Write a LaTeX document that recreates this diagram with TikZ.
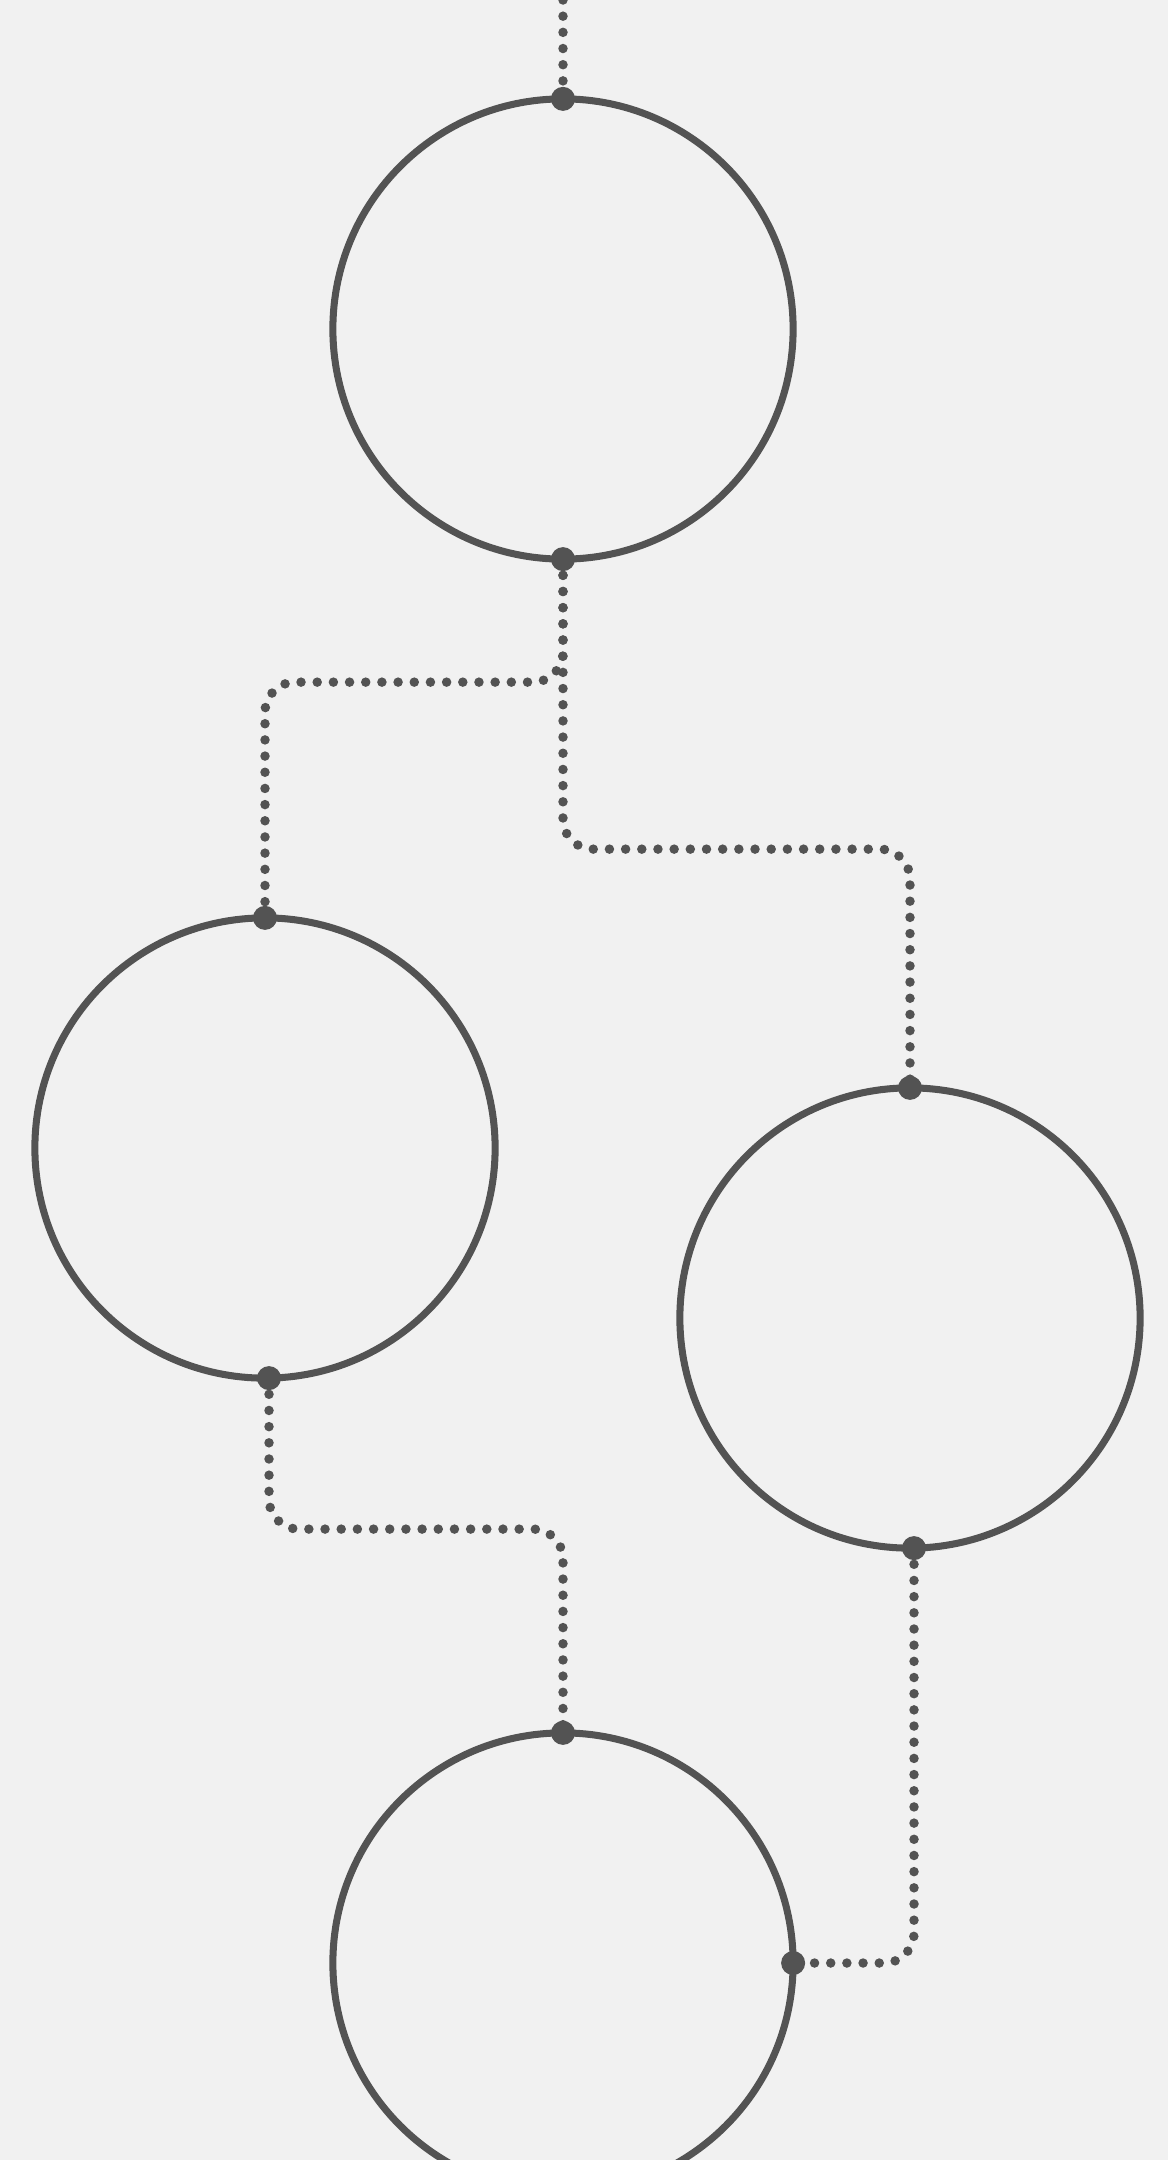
\documentclass[tikz,border=0pt]{standalone}
\usepackage{tikz}
\usetikzlibrary{positioning, calc}
\definecolor{mygrey}{RGB}{83,83,83}
\definecolor{mybg}{RGB}{241,241,241}
\tikzset{
  ring/.style={circle, draw=mygrey, line width=2pt,
    minimum size=4.6cm, inner sep=0pt, outer sep=0pt},
  joint/.style={circle, fill=mygrey, minimum size=0.24cm, inner sep=0pt},
  link/.style={mygrey, line width=2.7pt, line cap=round,
    dash pattern=on 0pt off 4.6pt, rounded corners=0.3cm}
}

\begin{document}
\begin{tikzpicture}[x=0.01cm, y=-0.01cm]
  % Canvas
  \fill[mybg] (0, 0) rectangle (1168, 2160);
  \useasboundingbox (0, 0) rectangle (1168, 2160);

  % Rings
  \node[ring] (ring1) at (563, 329) {};
  \node[ring] (ring2) at (265, 1148) {};
  \node[ring] (ring3) at (910, 1318) {};
  \node[ring] (ring4) at (563, 1963) {};
  \coordinate (entry) at (563, 0);

  % Links
  \draw[link] (entry) -- (ring1.north);
  \draw[link] (ring1.south) -- ++(0, 123) -| (ring2.north);
  \draw[link] (ring1.south) -- ++(0, 290) -| (ring3.north);
  \draw[link] (ring2.271) -- ++(0, 151) -| (ring4.north);
  \draw[link] (ring3.271) |- (ring4.east);

  % Joints
  \node[joint] (j1) at (ring1.north) {};
  \node[joint] (j2) at (ring1.south) {};
  \node[joint] (j3) at (ring2.north) {};
  \node[joint] (j4) at (ring2.271) {};
  \node[joint] (j5) at (ring3.north) {};
  \node[joint] (j6) at (ring3.271) {};
  \node[joint] (j7) at (ring4.north) {};
  \node[joint] (j8) at (ring4.east) {};
\end{tikzpicture}
\end{document}
